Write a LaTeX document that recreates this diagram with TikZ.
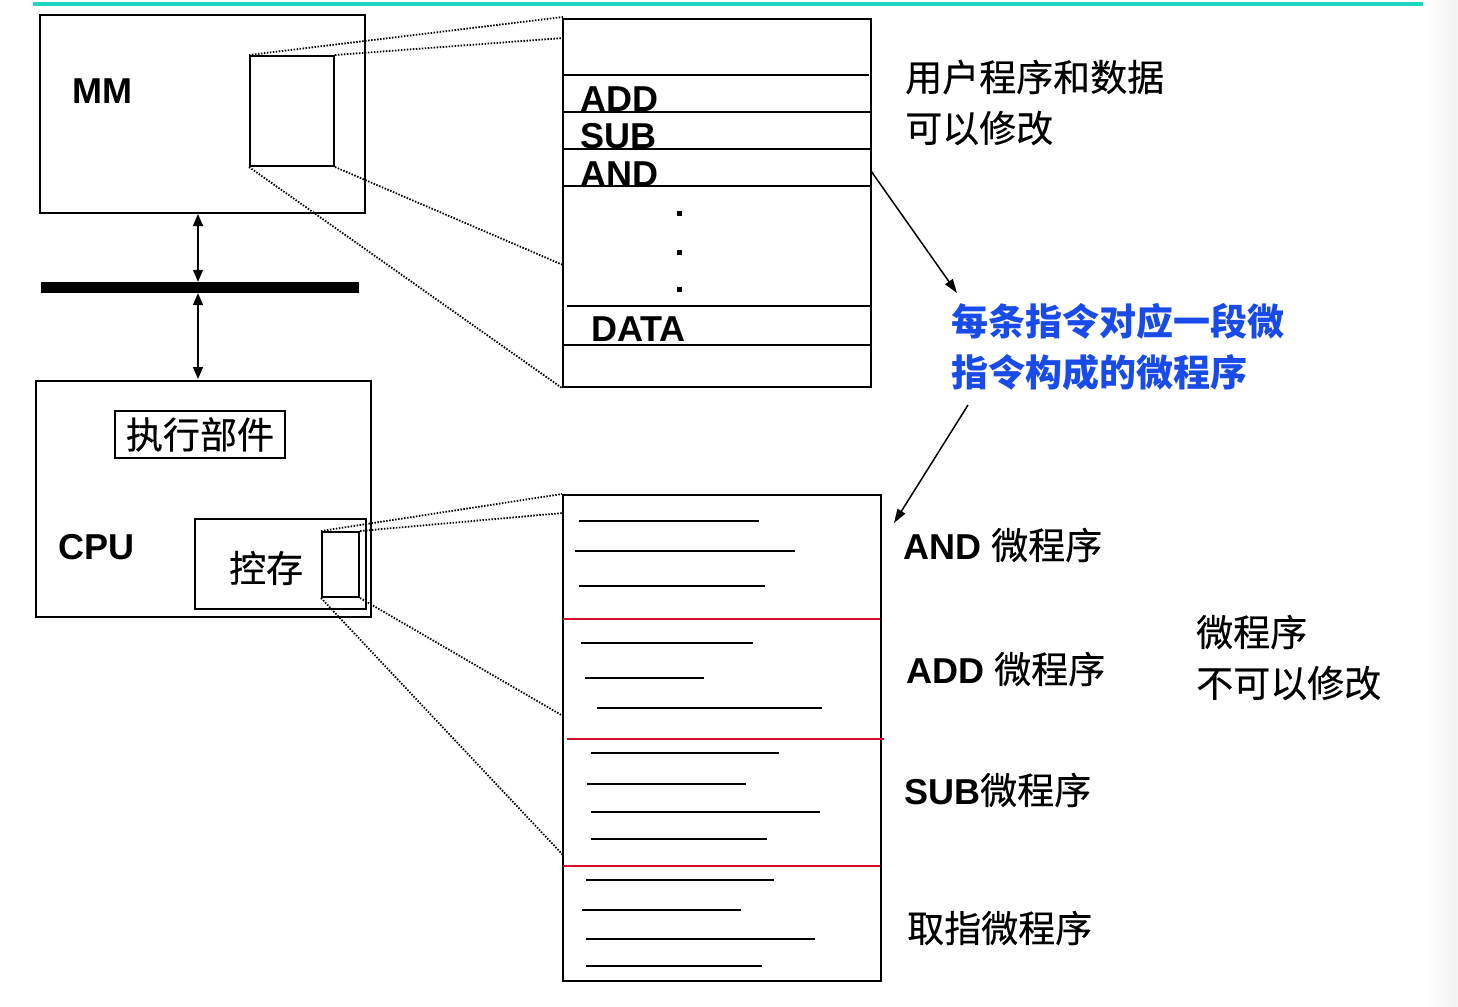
\documentclass[tikz,border=0pt]{standalone}
\usepackage{fontspec}
\setmainfont{Liberation Sans}
\newfontfamily\cjk[FakeBold=0.4]{Noto Sans CJK SC}
\newfontfamily\cjkb{Noto Sans CJK SC}
\usetikzlibrary{arrows.meta,fit}
\definecolor{rulecol}{RGB}{30,215,195}
\definecolor{cblue}{RGB}{25,75,235}
\definecolor{cred}{RGB}{215,10,45}
\begin{document}
\begin{tikzpicture}[x=1pt,y=-1pt,
  box/.style={draw,line width=2pt,inner sep=0pt},
  dotl/.style={line width=1.8pt,dash pattern=on 1.5pt off 1.5pt},
  seg/.style={line width=2pt},
  redl/.style={cred,line width=1.5pt},
  arr/.style={line width=1.5pt,-{Triangle[length=14pt,width=9pt]}},
  dbl/.style={line width=1.5pt,{Triangle[length=12pt,width=10pt]}-{Triangle[length=12pt,width=10pt]}},
  lbl/.style={inner sep=0pt,anchor=west,font=\fontsize{36}{40}\selectfont},
  cjkl/.style={inner sep=0pt,anchor=west,font=\fontsize{37}{40}\selectfont},
  cell/.style={inner sep=0pt,anchor=base west,font=\fontsize{36}{40}\selectfont\bfseries}]
\useasboundingbox (0,0) rectangle (1458,1006);
\shade[left color=white,right color=black!5] (1425,0) rectangle (1458,1006);
\draw[rulecol,line width=3.5pt] (33,4) -- (1423,4);

% main memory
\node[box,fit={(40,15) (365,213)}] (mm) {};
\node[box,fit={(250,56) (334,166)}] (mmsub) {};
\node[lbl,font=\fontsize{36}{40}\selectfont\bfseries] (mmt) at (72,91) {MM};

% bus
\node[fill=black,inner sep=0pt,fit={(41,282) (359,293)}] (bus) {};
\coordinate (ax) at (198,0);
\draw[dbl] (ax |- mm.south) -- (ax |- bus.north);
\draw[dbl] (ax |- bus.south) -- (ax |- 0,379);

% CPU
\node[box,fit={(36,381) (371,617)}] (cpu) {};
\node[box,fit={(115,411) (285,458)}] (exec) {};
\node[cjkl,anchor=center] (exect) at (exec.center) {\cjk 执行部件};
\node[lbl,font=\fontsize{36}{40}\selectfont\bfseries] (cput) at (58,547) {CPU};
\node[box,fit={(195,519) (366,609)}] (ks) {};
\node[cjkl] (kst) at (229,568) {\cjk 控存};
\node[box,fit={(322,532) (359,597)}] (kssub) {};

% program memory
\node[box,fit={(563,19) (871,387)}] (mem) {};
\draw[seg] (563,75) -- (869,75);
\draw[seg] (563,112) -- (871,112);
\draw[seg] (563,149) -- (871,149);
\draw[seg] (563,186) -- (871,186);
\draw[seg] (567,306) -- (871,306);
\draw[seg] (563,345) -- (871,345);
\node[cell] (add) at (580,112) {ADD};
\node[cell] (sub) at (580,149) {SUB};
\node[cell] (and) at (580,186) {AND};
\node[cell] (data) at (591,341) {DATA};
\fill (676.5,210.5) rectangle (681.5,215.5);
\fill (676.5,249.5) rectangle (681.5,254.5);
\fill (676.5,286.5) rectangle (681.5,291.5);

% zoom lines MM
\coordinate (m1) at (563,17);
\coordinate (m2) at (563,38);
\coordinate (m3) at (563,265);
\draw[dotl] (mmsub.north west) -- (m1);
\draw[dotl] (mmsub.north east) -- (m2);
\draw[dotl] (mmsub.south east) -- (m3);
\draw[dotl] (mmsub.south west) -- (mem.south west);

% control memory
\node[box,fit={(563,495) (881,981)}] (micro) {};
\draw[seg] (579,521) -- (759,521);
\draw[seg] (575,551) -- (795,551);
\draw[seg] (579,586) -- (765,586);
\draw[seg] (581,643) -- (753,643);
\draw[seg] (585,678) -- (704,678);
\draw[seg] (597,708) -- (822,708);
\draw[seg] (591,753) -- (779,753);
\draw[seg] (587,784) -- (746,784);
\draw[seg] (591,812) -- (820,812);
\draw[seg] (591,839) -- (767,839);
\draw[seg] (586,880) -- (774,880);
\draw[seg] (582,910) -- (741,910);
\draw[seg] (586,939) -- (815,939);
\draw[seg] (586,966) -- (762,966);
\draw[redl] (563,619) -- (880,619);
\draw[redl] (567,739) -- (884,739);
\draw[redl] (563,866) -- (880,866);

\coordinate (k2) at (563,513);
\coordinate (k3) at (563,716);
\coordinate (k4) at (563,855);
\draw[dotl] (kssub.north west) -- (micro.north west);
\draw[dotl] (kssub.north east) -- (k2);
\draw[dotl] (kssub.south east) -- (k3);
\draw[dotl] (kssub.south west) -- (k4);

% right texts
\node[cjkl] (u1) at (905,77) {\cjk 用户程序和数据};
\node[cjkl] (u2) at (905,128) {\cjk 可以修改};
\node[cjkl,text=cblue] (b1) at (951,321) {\cjkb\bfseries 每条指令对应一段微};
\node[cjkl,text=cblue] (b2) at (951,372) {\cjkb\bfseries 指令构成的微程序};
\node[lbl] (r1) at (903,545) {{\bfseries AND} {\fontsize{37}{40}\selectfont\cjk 微程序}};
\node[lbl] (r2) at (906,669) {{\bfseries ADD} {\fontsize{37}{40}\selectfont\cjk 微程序}};
\node[lbl] (r3) at (904,790) {{\bfseries SUB}{\fontsize{37}{40}\selectfont\cjk 微程序}};
\node[cjkl] (r4) at (907,928) {\cjk 取指微程序};
\node[cjkl] (n1) at (1196,632) {\cjk 微程序};
\node[cjkl] (n2) at (1196,683) {\cjk 不可以修改};

% arrows
\coordinate (a1s) at (871,171);
\coordinate (a1e) at (957,293);
\coordinate (a2s) at (968,405);
\coordinate (a2e) at (894,523);
\draw[arr] (a1s) -- (a1e);
\draw[arr] (a2s) -- (a2e);
\end{tikzpicture}
\end{document}
